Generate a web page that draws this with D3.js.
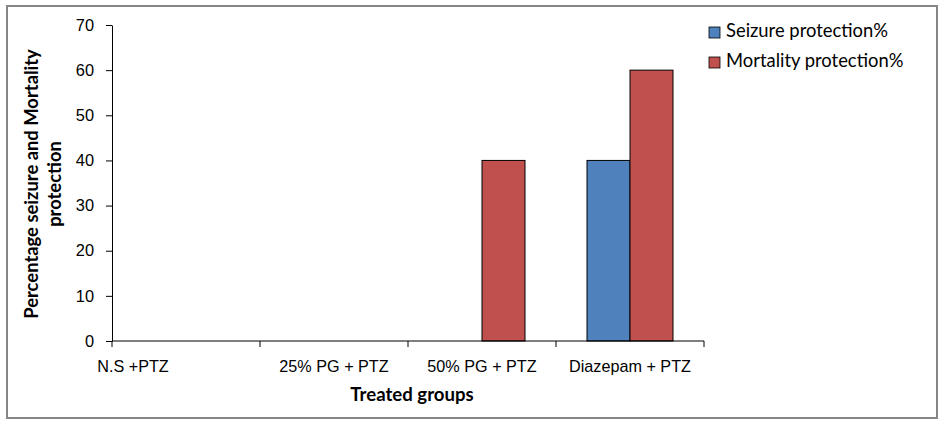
<!DOCTYPE html>
<html><head><meta charset="utf-8">
<script src="https://cdn.jsdelivr.net/npm/d3@7"></script>
<style>body{margin:0;background:#fff;} svg{display:block;font-family:Lato,"Open Sans",sans-serif;}</style>
</head><body>
<svg id="c" width="943" height="430"></svg>
<script>
const categories = ["N.S +PTZ", "25% PG + PTZ", "50% PG + PTZ", "Diazepam + PTZ"];
const seriesNames = ["Seizure protection%", "Mortality protection%"];
const seizure = [0, 0, 0, 40];
const mortality = [0, 0, 40, 60];
const yTicks = [0, 10, 20, 30, 40, 50, 60, 70];
const colors = ["#4f81bd", "#c0504d"];

(function () {
const svg = d3.select("#c");
svg.append("rect").attr("x", 7).attr("y", 6).attr("width", 930).attr("height", 412)
  .attr("fill", "#fff").attr("stroke", "#868686").attr("stroke-width", 2);

const mL = 112, mR = 704, mT = 25, mB = 341;
const x = d3.scaleBand().domain(categories).range([mL, mR]);
const y = d3.scaleLinear().domain([0, 70]).range([mB, mT]);
const barW = 43;
const data = categories.map((c, i) => ({c, vals: [seizure[i], mortality[i]]}));

const g = svg.append("g");
data.forEach(d => {
  d.vals.forEach((v, j) => {
    if (v <= 0) return;
    const cx = x(d.c) + x.bandwidth() / 2;
    g.append("rect")
      .attr("x", cx + (j - 1) * barW)
      .attr("y", y(v))
      .attr("width", barW)
      .attr("height", y(0) - y(v))
      .attr("fill", colors[j]).attr("stroke", "#000").attr("stroke-width", 1);
  });
});

const ya = svg.append("g").attr("transform", `translate(${mL},0)`)
  .call(d3.axisLeft(y).tickValues(yTicks).tickSize(6).tickPadding(12).tickSizeOuter(0));
ya.select(".domain").attr("stroke", "#000");
ya.selectAll("line").attr("stroke", "#000");
ya.selectAll("text").attr("font-size", 16.4).attr("fill", "#000");

const xa = svg.append("g").attr("transform", `translate(0,${mB})`)
  .call(d3.axisBottom(x).tickSize(0).tickPadding(19));
xa.select(".domain").attr("stroke", "#000").attr("d", `M${mL},0H${mR}`);
xa.selectAll("text").attr("font-size", 16.2).attr("fill", "#000");
xa.selectAll(".tick").filter(d => d === categories[0]).select("text").attr("dx", -53);
const bounds = categories.map(c => x(c)).concat([mR]);
svg.append("g").selectAll("line").data(bounds).join("line")
  .attr("x1", d => d).attr("x2", d => d).attr("y1", mB).attr("y2", mB + 6)
  .attr("stroke", "#000");

svg.append("text").attr("x", 412).attr("y", 401).attr("text-anchor", "middle")
  .attr("font-size", 18.6).attr("font-weight", "bold").text("Treated groups");
const yt = svg.append("text").attr("transform", "translate(0,184) rotate(-90)")
  .attr("text-anchor", "middle").attr("font-size", 18.4).attr("font-weight", "bold");
yt.append("tspan").attr("x", 0).attr("y", 38).text("Percentage seizure and Mortality");
yt.append("tspan").attr("x", 0).attr("y", 61).text("protection");

const lg = svg.append("g");
seriesNames.forEach((n, i) => {
  lg.append("rect").attr("x", 709).attr("y", 27 + i * 30).attr("width", 11).attr("height", 11)
    .attr("fill", colors[i]).attr("stroke", "#000").attr("stroke-width", 0.8);
  lg.append("text").attr("x", 726).attr("y", 37 + i * 30).attr("font-size", 18.4).text(n);
});
})();
</script>
</body></html>
